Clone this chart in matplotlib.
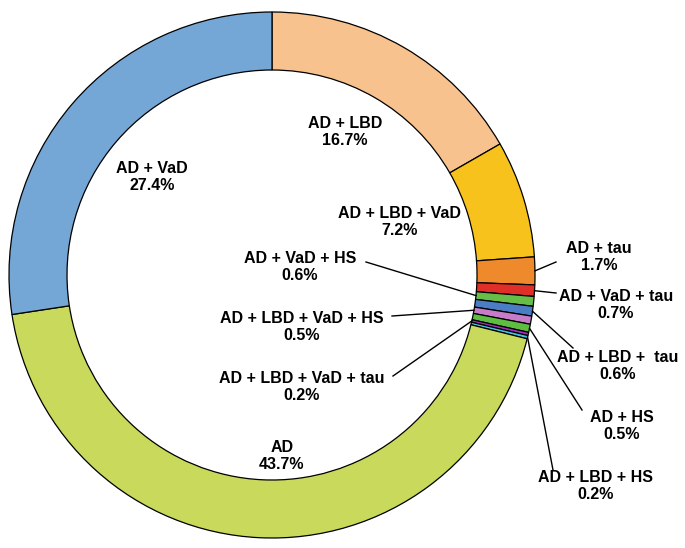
import matplotlib.pyplot as plt
import numpy as np

plt.rcParams['font.family'] = ['Liberation Sans', 'DejaVu Sans']

labels = ["AD + LBD", "AD + LBD + VaD", "AD + tau", "AD + VaD + tau",
          "AD + VaD + HS", "AD + LBD +  tau", "AD + LBD + VaD + HS", "AD + HS",
          "AD + LBD + VaD + tau", "AD + LBD + HS", "AD", "AD + VaD"]
values = [16.7, 7.2, 1.7, 0.7, 0.6, 0.6, 0.5, 0.5, 0.2, 0.2, 43.7, 27.4]
colors = ["#F7C28D", "#F8C21C", "#EE8A2C", "#DF2F28", "#66BE48", "#4A7DC4",
          "#C67CC8", "#5DBE42", "#A32EB5", "#3FC6DF", "#C8D95B", "#74A6D6"]

# label text centres in pixel coords (x, y from top)
text_pos = [(345, 132), (400, 222), (599, 257), (616, 305), (300, 267), (618, 366),
            (302, 327), (622, 426), (302, 387), (596, 486), (282, 456), (152, 177)]
# leader line end next to the text, None = no leader
leader_end = [None, None, (556, 262), (556, 293), (366, 262), (573, 348),
              (392, 316), (582, 410), (393, 376), (553, 470), None, None]
# which side of the ring the leader touches
leader_side = [None, None, "out", "out", "in", "out", "in", "out", "in", "out", None, None]

W, H = 685, 548
cx, cy = 272, 275
R, Rin = 263, 205

fig = plt.figure(figsize=(6.85, 5.48), dpi=100)
ax = fig.add_axes([0, 0, 1, 1])
ax.pie(values, colors=colors, startangle=90, counterclock=False, radius=R,
       center=(cx, H - cy),
       wedgeprops=dict(width=R - Rin, edgecolor="black", linewidth=0.9))

total = sum(values)
cum = np.cumsum([0] + values[:-1])
for i, lab in enumerate(labels):
    tx, ty = text_pos[i]
    ax.text(tx, H - ty, f"{lab}\n{values[i]}%", ha="center", va="center",
            fontsize=11.5, fontweight="bold", linespacing=1.15)
    if leader_end[i] is not None:
        theta = np.deg2rad(90 - 360 * (cum[i] + values[i] / 2) / total)
        r = R if leader_side[i] == "out" else Rin
        x0 = cx + r * np.cos(theta)
        y0 = (H - cy) + r * np.sin(theta)
        ex, ey = leader_end[i]
        ax.plot([x0, ex], [y0, H - ey], color="black", lw=1)

ax.set_xlim(0, W)
ax.set_ylim(0, H)
ax.set_aspect("equal")
ax.axis("off")
fig.savefig("out.png", dpi=100)
